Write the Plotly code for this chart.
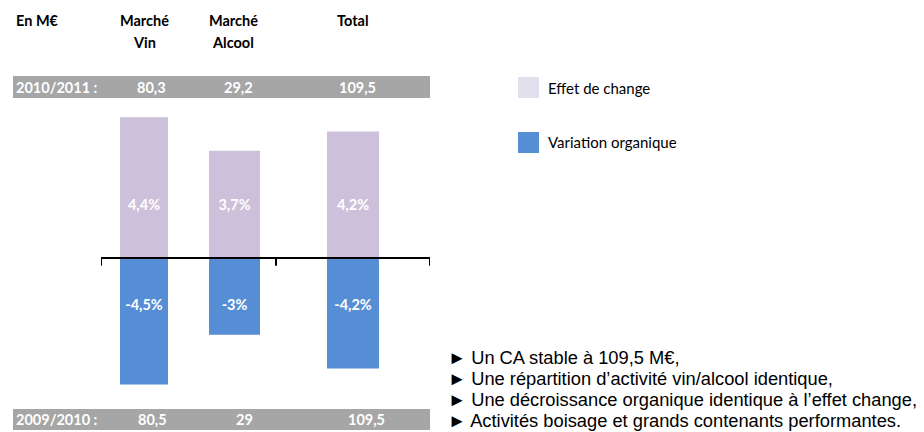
import plotly.graph_objects as go

W, H = 924, 432

marches = ["Marché Vin", "Marché Alcool", "Total"]
ca_2011 = ["80,3", "29,2", "109,5"]
ca_2010 = ["80,5", "29", "109,5"]
effet_change = [4.4, 3.35, 3.95]          # hauteur des barres
variation_organique = [-3.95, -2.4, -3.45]
effet_change_lbl = ["4,4%", "3,7%", "4,2%"]
variation_lbl = ["-4,5%", "-3%", "-4,2%"]
commentaires = [
    "► Un CA stable à 109,5 M€,",
    "► Une répartition d’activité vin/alcool identique,",
    "► Une décroissance organique identique à l’effet change,",
    "► Activités boisage et grands contenants performantes.",
]

# the page body adds an 8px margin, so shift everything back
OFF = 8

def px(x):
    return (x - OFF) / W

def py(y):
    return 1 - (y - OFF) / H

x_pos = [43, 133.5, 252]
bar_w = [48, 51, 52]
PURPLE = "#CDC0DA"
LAVENDER = "#E4DFEC"
BLUE = "#558ED5"
GREY = "#A6A6A6"
FONT = "Lato"
BOLD_SIZE = 14.5

fig = go.Figure()
fig.add_trace(go.Bar(x=x_pos, y=effet_change, width=bar_w, marker_color=PURPLE,
                     marker_line_width=0, showlegend=False, hoverinfo="skip"))
fig.add_trace(go.Bar(x=x_pos, y=variation_organique, width=bar_w, marker_color=BLUE,
                     marker_line_width=0, showlegend=False, hoverinfo="skip"))
fig.add_trace(go.Scatter(x=x_pos, y=[1.6] * 3, mode="text", text=effet_change_lbl,
                         textfont=dict(family=FONT, size=BOLD_SIZE, color="white", weight="bold"),
                         showlegend=False, hoverinfo="skip"))
fig.add_trace(go.Scatter(x=x_pos, y=[-1.5] * 3, mode="text", text=variation_lbl,
                         textfont=dict(family=FONT, size=BOLD_SIZE, color="white", weight="bold"),
                         showlegend=False, hoverinfo="skip"))

shapes = []
# axe zéro + graduations
shapes.append(dict(type="line", xref="x", yref="y", x0=0, x1=329, y0=0, y1=0,
                   line=dict(color="black", width=2)))
for tx in [0, 175, 329]:
    shapes.append(dict(type="line", xref="x", yref="y", x0=tx, x1=tx, y0=0, y1=-0.24,
                       line=dict(color="black", width=2)))
# bandeaux gris
for y0, y1 in [(76, 98), (409, 430)]:
    shapes.append(dict(type="rect", xref="paper", yref="paper", x0=px(13), x1=px(430),
                       y0=py(y1), y1=py(y0), fillcolor=GREY, line_width=0, layer="below"))
# légende
for (y0, y1), c in [((77, 98), LAVENDER), ((132, 153), BLUE)]:
    shapes.append(dict(type="rect", xref="paper", yref="paper", x0=px(518), x1=px(539),
                       y0=py(y1), y1=py(y0), fillcolor=c, line_width=0))

ann = []

def txt(x, y, s, size=BOLD_SIZE, color="black", bold=True, anchor="center", family=FONT):
    ann.append(dict(x=px(x), y=py(y), xref="paper", yref="paper", text=s, showarrow=False,
                    xanchor=anchor, yanchor="middle",
                    font=dict(family=family, size=size, color=color,
                              weight="bold" if bold else "normal")))

# en-têtes
txt(14, 20, "En M€", anchor="left")
for cx, m in zip([144, 233, 353], marches):
    words = m.split(" ")
    if len(words) > 1:
        txt(cx, 20, words[0])
        txt(cx, 42, words[1])
    else:
        txt(cx, 20, m)

txt(14, 88, "2010/2011 :", color="white", anchor="left")
for cx, v in zip([151, 238, 357], ca_2011):
    txt(cx, 88, v, color="white")
txt(14, 419, "2009/2010 :", color="white", anchor="left")
for cx, v in zip([152, 244, 366], ca_2010):
    txt(cx, 419, v, color="white")

txt(546, 88, "Effet de change", size=15, bold=False, anchor="left")
txt(546, 142, "Variation organique", size=15, bold=False, anchor="left")

for i, line in enumerate(commentaires):
    txt(446, 357.5 + 21 * i, line, size=18.3, bold=False, anchor="left", family="Arial, Liberation Sans")

fig.update_layout(
    width=W, height=H,
    margin=dict(l=0, r=0, t=0, b=0),
    paper_bgcolor="white", plot_bgcolor="white",
    barmode="relative",
    xaxis=dict(domain=[px(101), px(430)], range=[0, 329], visible=False, fixedrange=True),
    yaxis=dict(domain=[py(390), py(110)], range=[-(390 - 258) / 32, (258 - 110) / 32],
               visible=False, fixedrange=True),
    shapes=shapes,
    annotations=ann,
    showlegend=False,
)

fig.write_html("out.html")
